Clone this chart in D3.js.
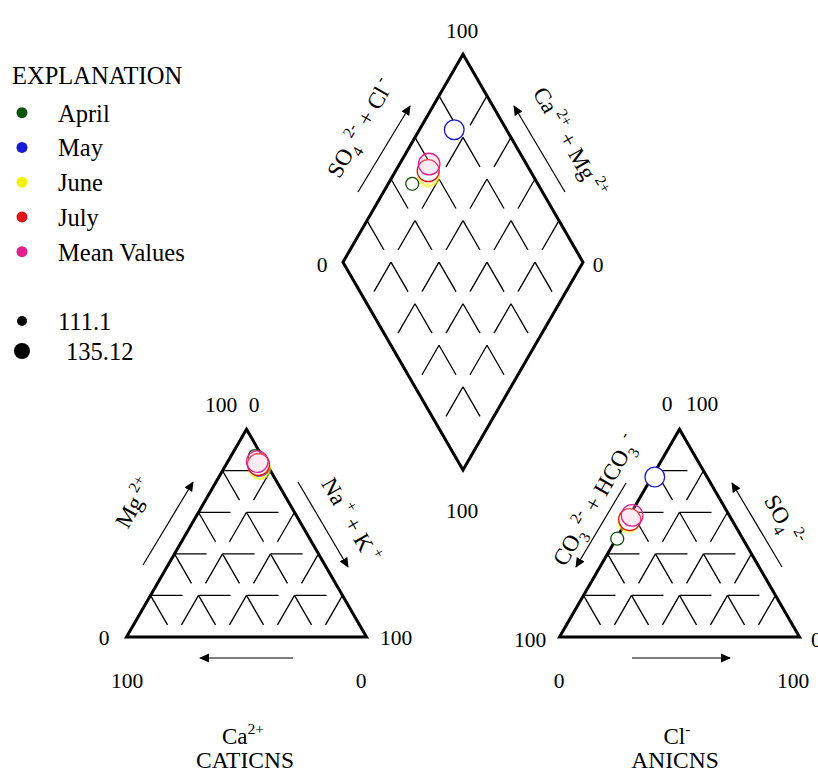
<!DOCTYPE html>
<html>
<head>
<meta charset="utf-8">
<script src="https://cdn.jsdelivr.net/npm/d3@7"></script>
<style>
body { margin: 0; background: #fff; }
svg { display: block; font-family: "Liberation Serif", "Times New Roman", serif; }
</style>
</head>
<body>
<svg width="818" height="772"></svg>
<script>
// samples (% of meq)
const months = ["April", "May", "June", "July", "Mean Values"];
const colors = ["#0b520b", "#1a1ad0", "#f2f200", "#e01414", "#e0208c"];
const ca  = [3.0, 3.5, 4.0, 3.5, 3.3];
const mg  = [87.0, 82.0, 81.0, 83.0, 84.4];
const naK = [10.0, 14.5, 15.0, 13.5, 12.3];
const co3 = [52.3, 21.8, 43.5, 42.5, 40.5];
const so4 = [47.3, 77.0, 55.5, 56.5, 58.5];
const cl  = [0.4, 1.2, 1.0, 1.0, 1.0];
const tds = [111.1, 129.0, 131.0, 135.12, 134.0];
const sizeLegend = [111.1, 135.12];
const gridTicks = [20, 40, 60, 80];

const svg = d3.select("svg");

const side = 240, h = side * Math.sqrt(3) / 2;
const catO = { x: 126.5, y: 637 };   // left corner of cation triangle
const aniO = { x: 559.5, y: 637 };   // left corner of anion triangle
const diaB = { x: 463, y: 470 };     // bottom corner of the diamond

const frac = d3.scaleLinear().domain([0, 100]).range([0, 1]);
const rScale = d3.scaleLinear().domain(d3.extent(sizeLegend)).range([6.5, 11]);

// position in a triangle: top = apex fraction, right = right corner fraction
function tri(o, top, right) {
    return [o.x + top * side / 2 + right * side, o.y - top * h];
}
// position in diamond: a = Ca+Mg, b = SO4+Cl
function dia(a, b) {
    return [diaB.x - a * side / 2 + b * side / 2, diaB.y - a * h - b * h];
}

const grid = svg.append("g").attr("stroke", "#000").attr("fill", "none");

function seg(p1, p2, dash) {
    grid.append("line")
        .attr("x1", p1[0]).attr("y1", p1[1])
        .attr("x2", p2[0]).attr("y2", p2[1])
        .attr("stroke-width", 1.3)
        .attr("stroke-dasharray", dash);
}

function drawTriangle(o) {
    gridTicks.forEach(t => {
        const f = frac(t);
        seg(tri(o, f, 0), tri(o, f, 1 - f), "32,16");          // horizontal
        seg(tri(o, 1 - f, f), tri(o, 0, f), "34,14");          // parallel to left edge
        seg(tri(o, 1 - f, 0), tri(o, 0, 1 - f), "34,14");      // parallel to right edge
    });
    const pts = [tri(o, 0, 0), tri(o, 1, 0), tri(o, 0, 1)];
    svg.append("path")
        .attr("d", "M" + pts.join("L") + "Z")
        .attr("fill", "none").attr("stroke", "#000")
        .attr("stroke-width", 3).attr("stroke-linejoin", "miter");
}

drawTriangle(catO);
drawTriangle(aniO);

// diamond
gridTicks.forEach(t => {
    const f = frac(t);
    seg(dia(1, f), dia(0, f), "34,14");
    seg(dia(f, 1), dia(f, 0), "34,14");
});
svg.append("path")
    .attr("d", "M" + [dia(0, 0), dia(1, 0), dia(1, 1), dia(0, 1)].join("L") + "Z")
    .attr("fill", "none").attr("stroke", "#000")
    .attr("stroke-width", 3).attr("stroke-linejoin", "miter");

// arrows along the edges
const defs = svg.append("defs");
defs.append("marker")
    .attr("id", "head")
    .attr("viewBox", "0 -5 10 10")
    .attr("refX", 9).attr("refY", 0)
    .attr("markerWidth", 10).attr("markerHeight", 10)
    .attr("markerUnits", "userSpaceOnUse")
    .attr("orient", "auto")
    .append("path")
    .attr("d", "M0,-4.5L10,0L0,4.5Z")
    .attr("fill", "#000");

function arrow(p1, p2) {
    svg.append("line")
        .attr("x1", p1[0]).attr("y1", p1[1])
        .attr("x2", p2[0]).attr("y2", p2[1])
        .attr("stroke", "#000").attr("stroke-width", 1.2)
        .attr("marker-end", "url(#head)");
}

arrow([358, 192], [410, 106]);
arrow([565, 192], [514, 106]);
arrow([143, 565], [193, 482]);
arrow([298, 482], [348, 567]);
arrow([626, 483], [576, 567]);
arrow([782, 567], [732, 483]);
arrow([293, 658], [200, 658]);
arrow([632, 658], [730, 658]);

// text helpers
function rich(g, parts, size) {
    const t = g.append("text").attr("text-anchor", "middle").attr("font-size", size);
    let cur = 0;
    parts.forEach(([s, k]) => {
        const off = k === "sup" ? -0.45 * size : k === "sub" ? 0.3 * size : 0;
        t.append("tspan")
            .attr("dy", off - cur)
            .attr("font-size", k ? size * 0.68 : size)
            .text(s);
        cur = off;
    });
    return t;
}
function label(x, y, rot, parts, size) {
    const g = svg.append("g").attr("transform", `translate(${x},${y}) rotate(${rot})`);
    rich(g, parts, size).attr("y", size * 0.35);
}

label(134, 503, -60, [["Mg"], [" 2+", "sup"]], 23);
label(351, 520, 60, [["Na"], [" +", "sup"], [" + K"], [" +", "sup"]], 23);
label(360, 128, -60, [["SO"], ["4", "sub"], ["  2-", "sup"], [" + Cl"], [" -", "sup"]], 23);
label(570, 142, 60, [["Ca"], [" 2+", "sup"], [" + Mg"], [" 2+", "sup"]], 23);
label(595, 500, -60, [["CO"], ["3", "sub"], ["  2-", "sup"], [" + HCO"], ["3", "sub"], ["  -", "sup"]], 23);
label(784, 520, 60, [["SO"], ["4", "sub"], ["  2-", "sup"]], 23);

// number labels
const nums = svg.append("g").attr("font-size", 21.5).attr("text-anchor", "middle");
function num(x, y, s, anchor) {
    nums.append("text").attr("x", x).attr("y", y).attr("text-anchor", anchor || "middle").text(s);
}
num(462, 38, "100");
num(322, 272, "0");
num(598, 272, "0");
num(462, 518, "100");
num(221, 412, "100");
num(254, 412, "0");
num(667, 411, "0");
num(702, 411, "100");
num(104, 645, "0");
num(396, 645, "100");
num(530, 647, "100");
num(811, 647, "0", "start");
num(127, 688, "100");
num(361, 688, "0");
num(559, 688, "0");
num(793, 688, "100");

const cap = svg.append("g");
rich(cap.append("g").attr("transform", "translate(243,744)"), [["Ca"], ["2+", "sup"]], 23);
rich(cap.append("g").attr("transform", "translate(245,768)"), [["CATICNS"]], 23.5);
rich(cap.append("g").attr("transform", "translate(677,744)"), [["Cl"], ["-", "sup"]], 23);
rich(cap.append("g").attr("transform", "translate(675,768)"), [["ANICNS"]], 23.5);

// data points
const samples = months.map((m, i) => ({
    name: m, color: colors[i], r: rScale(tds[i]),
    cat: tri(catO, frac(mg[i]), frac(naK[i])),
    ani: tri(aniO, frac(so4[i]), frac(cl[i])),
    dia: dia(frac(ca[i] + mg[i]), frac(so4[i] + cl[i]))
}));

const pts = svg.append("g");
["cat", "ani", "dia"].forEach(key => {
    pts.append("g").selectAll("circle")
        .data(samples)
        .join("circle")
        .attr("cx", d => d[key][0])
        .attr("cy", d => d[key][1])
        .attr("r", d => d.r)
        .attr("fill", d => d.name === "Mean Values" ? "rgba(255,190,220,0.3)" : d.name === "June" ? "rgba(255,240,120,0.35)" : "#fff")
        .attr("stroke", d => d.color)
        .attr("stroke-width", d => d.name === "June" ? 2.5 : 1.3)
        .attr("stroke-opacity", d => d.name === "June" ? 0.55 : 1);
});

// legend
const leg = svg.append("g");
leg.append("text").attr("x", 12).attr("y", 84).attr("font-size", 24.5).text("EXPLANATION");
const rows = leg.selectAll("g.row").data(months).join("g")
    .attr("class", "row")
    .attr("transform", (d, i) => `translate(0,${112.7 + i * 34.75})`);
rows.append("circle").attr("cx", 22).attr("r", 5.5).attr("fill", (d, i) => colors[i]);
rows.append("text").attr("x", 58).attr("y", 9).attr("font-size", 24.5).text(d => d);

const sz = leg.selectAll("g.size").data(sizeLegend).join("g")
    .attr("class", "size")
    .attr("transform", (d, i) => `translate(0,${321 + i * 30})`);
sz.append("circle").attr("cx", 22).attr("r", (d, i) => i ? 8 : 5).attr("fill", "#000");
sz.append("text").attr("x", (d, i) => i ? 66 : 58).attr("y", 9).attr("font-size", 24.5).text(d => d);
</script>
</body>
</html>
